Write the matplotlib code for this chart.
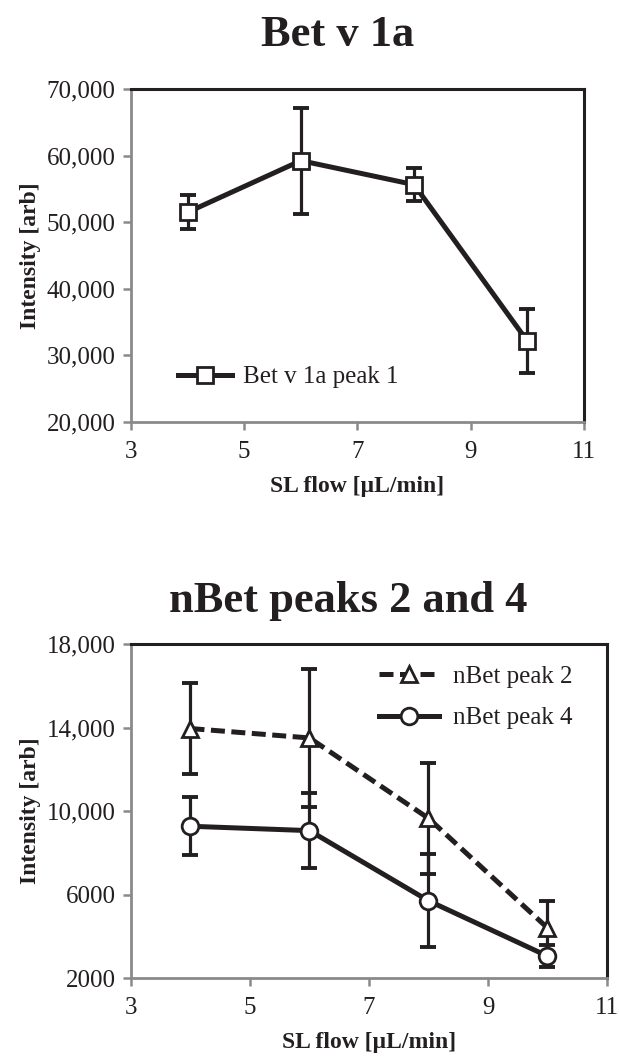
import matplotlib
matplotlib.use("Agg")
import matplotlib.pyplot as plt

# flow rates [uL/min]
flow = [4, 6, 8, 10]

# Bet v 1a peak 1
bet1 = [51500, 59250, 55650, 32150]
bet1_err = [2550, 7950, 2450, 4750]

# nBet peaks 2 and 4
nbet2 = [13950, 13500, 9650, 4400]
nbet2_err = [2200, 3300, 2670, 1280]
nbet4 = [9270, 9060, 5700, 3050]
nbet4_err = [1390, 1810, 2220, 530]

top_yticks = [20000, 30000, 40000, 50000, 60000, 70000]
top_ylabels = ["20,000", "30,000", "40,000", "50,000", "60,000", "70,000"]
bot_yticks = [2000, 6000, 10000, 14000, 18000]
bot_ylabels = ["2000", "6000", "10,000", "14,000", "18,000"]
xticks = [3, 5, 7, 9, 11]

TXT = "#231f20"
GRAY = "#8a8a8a"


def style_axes(ax):
    for s in ["left", "bottom"]:
        ax.spines[s].set_color(GRAY)
        ax.spines[s].set_linewidth(2)
    for s in ["top", "right"]:
        ax.spines[s].set_color(TXT)
        ax.spines[s].set_linewidth(2.2)
    ax.tick_params(direction="out", length=6, width=1.8, color=GRAY,
                   labelsize=18, labelcolor=TXT)
    ax.tick_params(axis="x", pad=8)
    ax.tick_params(axis="y", pad=5)
    ax.set_xlim(3, 11)
    ax.set_xticks(xticks)
    ax.set_xlabel("SL flow [\u00b5L/min]", fontsize=17, fontweight="bold",
                  color=TXT, labelpad=9)
    ax.set_ylabel("Intensity [arb]", fontsize=17, fontweight="bold",
                  color=TXT, labelpad=4)


def series(ax, y, err, marker, ls, label):
    ax.errorbar(flow, y, yerr=err, fmt="none", ecolor=TXT, elinewidth=2.3,
                capsize=5.5, capthick=2.8, zorder=2)
    ax.plot(flow, y, color=TXT, lw=3.6, linestyle=ls, marker=marker, ms=12,
            mfc="white", mec=TXT, mew=2, label=label, zorder=3)


def main():
    plt.rcParams["font.family"] = ["Liberation Serif", "DejaVu Serif"]
    fig = plt.figure(figsize=(6.19, 10.58), dpi=100)

    # ---- top chart
    ax1 = fig.add_axes([0.2116, 0.6011, 0.7318, 0.3147])
    series(ax1, bet1, bet1_err, "s", "-", "Bet v 1a peak 1")
    ax1.set_ylim(20000, 70000)
    ax1.set_yticks(top_yticks)
    ax1.set_yticklabels(top_ylabels)
    style_axes(ax1)
    leg = ax1.legend(loc="center left", bbox_to_anchor=(0.104, 0.135),
                     frameon=False, fontsize=18, handlelength=2.16,
                     handletextpad=0.44, borderpad=0, borderaxespad=0)
    for t in leg.get_texts():
        t.set_color(TXT)
    fig.text(0.545, 0.9565, "Bet v 1a", fontsize=32, fontweight="bold",
             color=TXT, ha="center", va="baseline")

    # ---- bottom chart
    ax2 = fig.add_axes([0.2116, 0.0756, 0.769, 0.3157])
    series(ax2, nbet2, nbet2_err, "^", (0, (2.8, 1.3)), "nBet peak 2")
    series(ax2, nbet4, nbet4_err, "o", "-", "nBet peak 4")
    ax2.set_ylim(2000, 18000)
    ax2.set_yticks(bot_yticks)
    ax2.set_yticklabels(bot_ylabels)
    style_axes(ax2)
    leg2 = ax2.legend(loc="upper left", bbox_to_anchor=(0.521, 0.935),
                      frameon=False, fontsize=18, handlelength=2.4,
                      handletextpad=0.56, labelspacing=0.75, borderpad=0,
                      borderaxespad=0)
    for t in leg2.get_texts():
        t.set_color(TXT)
    fig.text(0.273, 0.4216, "nBet peaks 2 and 4", fontsize=32,
             fontweight="bold", color=TXT, ha="left", va="baseline")

    fig.savefig("out.png", dpi=100)


if __name__ == "__main__":
    main()
